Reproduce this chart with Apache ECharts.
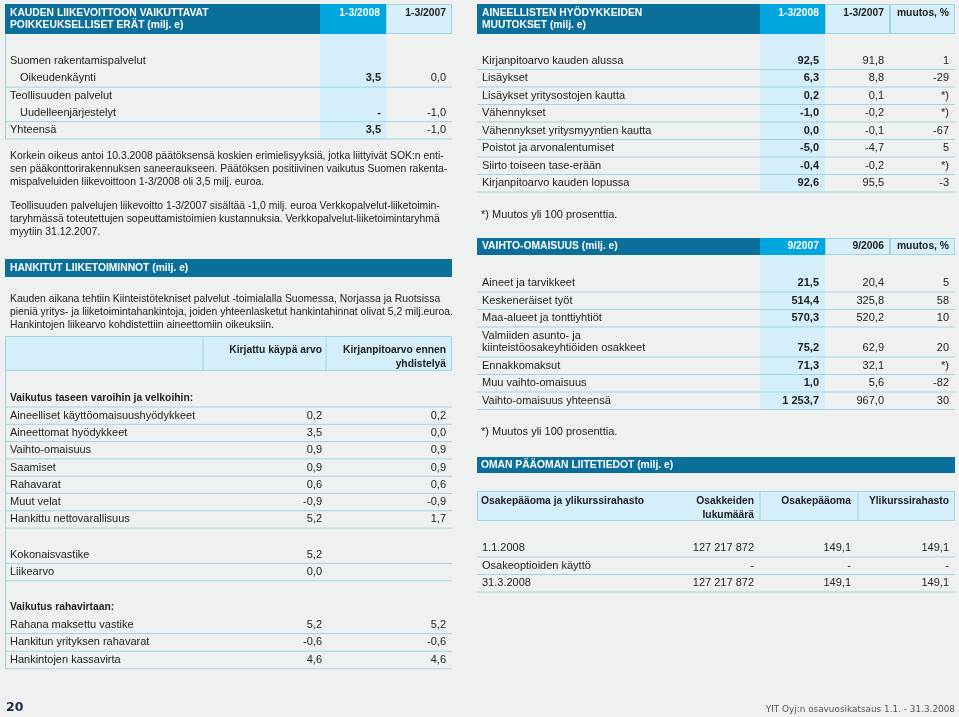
<!DOCTYPE html>
<html>
<head>
<meta charset="utf-8">
<script src="https://cdn.jsdelivr.net/npm/echarts@6/dist/echarts.min.js"></script>
<style>
html, body { margin: 0; padding: 0; background: #eff1f1; }
#main { width: 959px; height: 717px; }
</style>
</head>
<body>
<div id="main"></div>
<script>
// --- data ---------------------------------------------------------------
// kauden liikevoittoon vaikuttavat poikkeukselliset erät
var eratOtsikko = ['KAUDEN LIIKEVOITTOON VAIKUTTAVAT', 'POIKKEUKSELLISET ERÄT (milj. e)'];
var eratSarakkeet = ['1-3/2008', '1-3/2007'];
var eratRivit = ['Suomen rakentamispalvelut', 'Oikeudenkäynti', 'Teollisuuden palvelut', 'Uudelleenjärjestelyt', 'Yhteensä'];
var eratAlarivit = ['Oikeudenkäynti', 'Uudelleenjärjestelyt'];
var erat2008 = [null, 3.5, null, '-', 3.5];
var erat2007 = [null, 0.0, null, -1.0, -1.0];

// aineellisten hyödykkeiden muutokset
var ainOtsikko = ['AINEELLISTEN HYÖDYKKEIDEN', 'MUUTOKSET (milj. e)'];
var ainSarakkeet = ['1-3/2008', '1-3/2007', 'muutos, %'];
var ainRivit = ['Kirjanpitoarvo kauden alussa', 'Lisäykset', 'Lisäykset yritysostojen kautta', 'Vähennykset',
  'Vähennykset yritysmyyntien kautta', 'Poistot ja arvonalentumiset', 'Siirto toiseen tase-erään', 'Kirjanpitoarvo kauden lopussa'];
var ain2008 = [92.5, 6.3, 0.2, -1.0, 0.0, -5.0, -0.4, 92.6];
var ain2007 = [91.8, 8.8, 0.1, -0.2, -0.1, -4.7, -0.2, 95.5];
var ainMuutos = [1, -29, '*)', '*)', -67, 5, '*)', -3];

// vaihto-omaisuus
var vaiOtsikko = ['VAIHTO-OMAISUUS (milj. e)'];
var vaiSarakkeet = ['9/2007', '9/2006', 'muutos, %'];
var vaiRivit = ['Aineet ja tarvikkeet', 'Keskeneräiset työt', 'Maa-alueet ja tonttiyhtiöt',
  'Valmiiden asunto- ja\nkiinteistöosakeyhtiöiden osakkeet', 'Ennakkomaksut', 'Muu vaihto-omaisuus', 'Vaihto-omaisuus yhteensä'];
var vai2007 = [21.5, 514.4, 570.3, 75.2, 71.3, 1.0, 1253.7];
var vai2006 = [20.4, 325.8, 520.2, 62.9, 32.1, 5.6, 967.0];
var vaiMuutos = [5, 58, 10, 20, '*)', -82, 30];

var alaviite = '*) Muutos yli 100 prosenttia.';

// oman pääoman liitetiedot
var omaOtsikko = 'OMAN PÄÄOMAN LIITETIEDOT (milj. e)';
var omaSarakkeet = ['Osakepääoma ja ylikurssirahasto', 'Osakkeiden\nlukumäärä', 'Osakepääoma', 'Ylikurssirahasto'];
var omaRivit = ['1.1.2008', 'Osakeoptioiden käyttö', '31.3.2008'];
var omaLukumaara = [127217872, '-', 127217872];
var omaOsakepaaoma = [149.1, '-', 149.1];
var omaYlikurssi = [149.1, '-', 149.1];

// teksti
var kappale1 = ['Korkein oikeus antoi 10.3.2008 päätöksensä koskien erimielisyyksiä, jotka liittyivät SOK:n enti-',
  'sen pääkonttorirakennuksen saneeraukseen. Päätöksen positiivinen vaikutus Suomen rakenta-',
  'mispalveluiden liikevoittoon 1-3/2008 oli 3,5 milj. euroa.'];
var kappale2 = ['Teollisuuden palvelujen liikevoitto 1-3/2007 sisältää -1,0 milj. euroa Verkkopalvelut-liiketoimin-',
  'taryhmässä toteutettujen sopeuttamistoimien kustannuksia. Verkkopalvelut-liiketoimintaryhmä',
  'myytiin 31.12.2007.'];
var hankOtsikko = 'HANKITUT LIIKETOIMINNOT (milj. e)';
var kappale3 = ['Kauden aikana tehtiin Kiinteistötekniset palvelut -toimialalla Suomessa, Norjassa ja Ruotsissa',
  'pieniä yritys- ja liiketoimintahankintoja, joiden yhteenlasketut hankintahinnat olivat 5,2 milj.euroa.',
  'Hankintojen liikearvo kohdistettiin aineettomiin oikeuksiin.'];

// hankitut liiketoiminnot
var hankSarakkeet = ['Kirjattu käypä arvo', 'Kirjanpitoarvo ennen\nyhdistelyä'];
var taseOtsikko = 'Vaikutus taseen varoihin ja velkoihin:';
var taseRivit = ['Aineelliset käyttöomaisuushyödykkeet', 'Aineettomat hyödykkeet', 'Vaihto-omaisuus', 'Saamiset',
  'Rahavarat', 'Muut velat', 'Hankittu nettovarallisuus'];
var taseKaypa = [0.2, 3.5, 0.9, 0.9, 0.6, -0.9, 5.2];
var taseKirjanpito = [0.2, 0.0, 0.9, 0.9, 0.6, -0.9, 1.7];
var vastikeRivit = ['Kokonaisvastike', 'Liikearvo'];
var vastikeKaypa = [5.2, 0.0];
var rahaOtsikko = 'Vaikutus rahavirtaan:';
var rahaRivit = ['Rahana maksettu vastike', 'Hankitun yrityksen rahavarat', 'Hankintojen kassavirta'];
var rahaKaypa = [5.2, -0.6, 4.6];
var rahaKirjanpito = [5.2, -0.6, 4.6];

var sivu = '20';
var alatunniste = 'YIT Oyj:n osavuosikatsaus 1.1. - 31.3.2008';

// --- look ---------------------------------------------------------------
var BG = '#eff1f1', DARK = '#0b6f9c', CYAN = '#00a6df', LIGHT = '#d4eefa',
    RULE = '#a3d3e3', INK = '#222222';
var FONT = '"Liberation Sans", Arial, Helvetica, sans-serif';
var HEAD = 10.3; // bold headings
var PARA = 10.4; // body paragraphs

function grp(n) { return String(n).replace(/\B(?=(\d{3})+(?!\d))/g, ' '); }
function fmt(v) {
  if (v === null || v === undefined) return '';
  if (typeof v === 'string') return v;
  var s = Math.abs(v).toFixed(1).split('.');
  return (v < 0 ? '-' : '') + grp(s[0]) + ',' + s[1];
}
function fmtInt(v) {
  if (typeof v === 'string') return v;
  return (v < 0 ? '-' : '') + grp(Math.abs(v));
}

var els = [];
function rect(x, y, w, h, fill, stroke) {
  els.push({ type: 'rect', silent: true, shape: { x: x, y: y, width: w, height: h },
    style: { fill: fill, stroke: stroke || null, lineWidth: stroke ? 1 : 0 } });
}
function line(x1, y1, x2, y2, color) {
  els.push({ type: 'line', silent: true, shape: { x1: x1, y1: y1, x2: x2, y2: y2 },
    style: { stroke: color || RULE, lineWidth: 1 } });
}
function text(x, y, s, o) {
  o = o || {};
  var al = o.align || 'left';
  els.push({ type: 'text', silent: true, x: x, y: y,
    style: { text: s, fill: o.color || INK, fontFamily: o.family || FONT,
      fontSize: o.size || 11, fontWeight: o.bold ? 'bold' : 'normal',
      align: al, textAlign: al, verticalAlign: 'middle', textVerticalAlign: 'middle' } });
}

// left column 5..452, right column 477..955
var L0 = 5, L1 = 452, R0 = 477, R1 = 955;

// dark header with coloured value columns
function header(x0, y, h, title, cols, edges) {
  var ty = y + (h < 20 ? 8.5 : 9);
  rect(x0, y, edges[0] - x0, h, DARK);
  title.forEach(function (t, i) {
    text(x0 + 5, ty + i * 12, t, { color: '#fff', bold: true, size: HEAD });
  });
  for (var c = 0; c < cols.length; c++) {
    var a = edges[c], b = edges[c + 1];
    if (c === 0) rect(a, y, b - a, h, CYAN);
    else rect(a + 0.5, y + 0.5, b - a - 1, h - 1, LIGHT, RULE);
    text(b - 6, ty, cols[c], { align: 'right', color: c === 0 ? '#fff' : INK, bold: true, size: HEAD });
  }
}

// table body rows; a label with '\n' takes two text lines
function rows(x0, x1, top, pitch, list, rights, valBoldFirst) {
  var y = top;
  list.forEach(function (r) {
    var parts = r.label.split('\n');
    var h = parts.length > 1 ? pitch + 12.5 : pitch;
    var cy = parts.length > 1 ? y + h - 9 : y + h / 2;
    parts.forEach(function (p, k) {
      var ly = parts.length > 1 ? y + 9 + k * 12 : cy;
      text(x0 + (r.indent ? 15 : 5), ly, p, r.head ? { bold: true, size: HEAD } : {});
    });
    (r.vals || []).forEach(function (v, i) {
      text(rights[i], cy, v, { align: 'right', bold: valBoldFirst && i === 0 });
    });
    y += h;
    if (r.rule) line(x0, y, x1, y);
  });
  return y;
}

// --- left: poikkeukselliset erät -----------------------------------------
var eEdges = [320, 386, 452];
rect(320, 34, 66, 105, LIGHT);
line(L0 + 0.5, 34, L0 + 0.5, 139);
header(L0, 4, 30, eratOtsikko, eratSarakkeet, eEdges);
rows(L0, L1, 52.5, 17.3, eratRivit.map(function (lab, i) {
  return { label: lab, indent: eratAlarivit.indexOf(lab) >= 0,
    vals: [fmt(erat2008[i]), fmt(erat2007[i])],
    rule: i === 1 || i >= 3 };
}), [381, 446], true);

kappale1.forEach(function (t, i) { text(L0 + 5, 156 + i * 13, t, { size: PARA }); });
kappale2.forEach(function (t, i) { text(L0 + 5, 206 + i * 13, t, { size: PARA }); });

rect(L0, 259, L1 - L0, 18, DARK);
text(L0 + 5, 268, hankOtsikko, { color: '#fff', bold: true, size: HEAD });
kappale3.forEach(function (t, i) { text(L0 + 5, 299 + i * 13, t, { size: PARA }); });

// --- left: hankitut liiketoiminnot --------------------------------------
rect(L0 + 0.5, 336.5, L1 - L0 - 1, 34, LIGHT, RULE);
line(203, 336.5, 203, 370.5);
line(326, 336.5, 326, 370.5);
var hs = hankSarakkeet[1].split('\n');
text(322, 350, hankSarakkeet[0], { align: 'right', bold: true, size: HEAD });
text(446, 350, hs[0], { align: 'right', bold: true, size: HEAD });
text(446, 364, hs[1], { align: 'right', bold: true, size: HEAD });
line(L0 + 0.5, 371, L0 + 0.5, 669);
var hRights = [322, 446];
rows(L0, L1, 389.7, 17.3, [{ label: taseOtsikko, head: true, rule: true }].concat(taseRivit.map(function (lab, i) {
  return { label: lab, vals: [fmt(taseKaypa[i]), fmt(taseKirjanpito[i])], rule: true };
})), hRights, false);
rows(L0, L1, 546, 17.4, vastikeRivit.map(function (lab, i) {
  return { label: lab, vals: [fmt(vastikeKaypa[i])], rule: true };
}), hRights, false);
rows(L0, L1, 598.4, 17.6, [{ label: rahaOtsikko, head: true }].concat(rahaRivit.map(function (lab, i) {
  return { label: lab, vals: [fmt(rahaKaypa[i]), fmt(rahaKirjanpito[i])], rule: true };
})), hRights, false);

// --- right: aineelliset hyödykkeet --------------------------------------
var aEdges = [760, 825, 890, 955];
var aRights = [819, 884, 949];
rect(760, 34, 65, 158, LIGHT);
header(R0, 4, 30, ainOtsikko, ainSarakkeet, aEdges);
rows(R0, R1, 52, 17.5, ainRivit.map(function (lab, i) {
  return { label: lab, vals: [fmt(ain2008[i]), fmt(ain2007[i]), fmtInt(ainMuutos[i])], rule: true };
}), aRights, true);
text(R0 + 4, 215, alaviite);

// --- right: vaihto-omaisuus ---------------------------------------------
rect(760, 255, 65, 154.5, LIGHT);
header(R0, 238, 17, vaiOtsikko, vaiSarakkeet, aEdges);
rows(R0, R1, 274.5, 17.5, vaiRivit.map(function (lab, i) {
  return { label: lab, vals: [fmt(vai2007[i]), fmt(vai2006[i]), fmtInt(vaiMuutos[i])], rule: true };
}), aRights, true);
text(R0 + 4, 432, alaviite);

// --- right: oman pääoman liitetiedot ------------------------------------
rect(R0, 457, R1 - R0, 16, DARK);
text(R0 + 4, 465, omaOtsikko, { color: '#fff', bold: true, size: HEAD });
rect(R0 + 0.5, 491.5, R1 - R0 - 1, 29, LIGHT, RULE);
line(760, 491.5, 760, 520.5);
line(858, 491.5, 858, 520.5);
var os = omaSarakkeet[1].split('\n');
text(R0 + 4, 501, omaSarakkeet[0], { bold: true, size: HEAD });
text(754, 501, os[0], { align: 'right', bold: true, size: HEAD });
text(754, 515, os[1], { align: 'right', bold: true, size: HEAD });
text(851, 501, omaSarakkeet[2], { align: 'right', bold: true, size: HEAD });
text(949, 501, omaSarakkeet[3], { align: 'right', bold: true, size: HEAD });
rows(R0, R1, 539.5, 17.5, omaRivit.map(function (lab, i) {
  return { label: lab, vals: [fmtInt(omaLukumaara[i]), fmt(omaOsakepaaoma[i]), fmt(omaYlikurssi[i])], rule: true };
}), [754, 851, 949], false);

// --- page footer ----------------------------------------------------------
text(L0 + 1, 708, sivu, { bold: true, size: 12.5, color: '#1c2b4c', family: '"DejaVu Sans", sans-serif' });
text(R1, 710, alatunniste, { align: 'right', size: 8.9, color: '#555', family: '"DejaVu Sans", sans-serif' });

var chart = echarts.init(document.getElementById('main'));
chart.setOption({
  backgroundColor: BG,
  animation: false,
  graphic: { elements: els }
});
</script>
</body>
</html>
